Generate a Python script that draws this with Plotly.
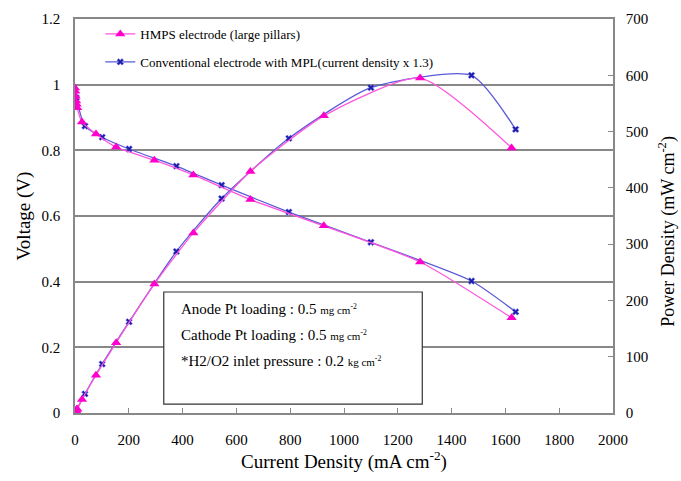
import plotly.graph_objects as go

# HMPS electrode (large pillars)
hmps_i = [0, 1, 2, 4, 6, 8, 26, 78, 153, 295, 440, 652, 925, 1283, 1623]
hmps_v = [0.99, 0.98, 0.965, 0.95, 0.94, 0.93, 0.886, 0.85, 0.81, 0.77, 0.725, 0.65, 0.57, 0.46, 0.29]
hmps_p = [0, 1, 2, 4, 6, 7, 24, 67, 125, 229, 320, 429, 528, 595, 471]

# Conventional electrode with MPL (current density x 1.3)
conv_i = [5, 37, 101, 201, 377, 545, 795, 1100, 1474, 1638]
conv_v = [0.96, 0.874, 0.84, 0.804, 0.752, 0.694, 0.612, 0.52, 0.402, 0.308]
conv_p = [5, 34, 87, 162, 287, 381, 488, 578, 600, 504]

x_ticks = [0, 200, 400, 600, 800, 1000, 1200, 1400, 1600, 1800, 2000]

FONT = "Liberation Serif"
MAG_LINE = "#FF55DD"
MAG_MK = "#FF00CC"
BLU_LINE = "#5A5AD8"
BLU_MK = "#1E1EA8"

mag_line = dict(color=MAG_LINE, width=1.3, shape="spline", smoothing=0.6)
blu_line = dict(color=BLU_LINE, width=1.3, shape="spline", smoothing=0.6)
mag_mk = dict(symbol="triangle-up", size=9, color=MAG_MK)
blu_mk = dict(symbol="x", size=6, color=BLU_MK, line=dict(width=0.5, color="#8888ff"))

fig = go.Figure()
fig.add_trace(go.Scatter(x=conv_i, y=conv_v, mode="lines+markers",
                         name="Conventional electrode with MPL(current density x 1.3)",
                         line=blu_line, marker=blu_mk, legendgroup="b", legendrank=2))
fig.add_trace(go.Scatter(x=conv_i, y=conv_p, mode="lines+markers", yaxis="y2", showlegend=False,
                         line=blu_line, marker=blu_mk, legendgroup="b"))
fig.add_trace(go.Scatter(x=hmps_i, y=hmps_v, mode="lines+markers", name="HMPS electrode (large pillars)",
                         line=mag_line, marker=mag_mk, legendgroup="a", legendrank=1))
fig.add_trace(go.Scatter(x=hmps_i, y=hmps_p, mode="lines+markers", yaxis="y2", showlegend=False,
                         line=mag_line, marker=mag_mk, legendgroup="a"))

# info box
fig.add_shape(type="rect", xref="x", yref="y", x0=330, x1=1291, y0=0.027, y1=0.3685,
              line=dict(color="#333", width=1.2), fillcolor="white", layer="above")
small = "<span style='font-size:11px'>%s</span>"
lines = [
    ("Anode Pt loading : 0.5 " + small % "mg cm<sup>-2</sup>", 0.317),
    ("Cathode Pt loading : 0.5 " + small % "mg cm<sup>-2</sup>", 0.238),
    ("*H2/O2 inlet pressure : 0.2 " + small % "kg cm<sup>-2</sup>", 0.158),
]
for txt, yy in lines:
    fig.add_annotation(x=388, y=yy, xref="x", yref="y", text=txt, showarrow=False,
                       xanchor="left", yanchor="middle", font=dict(family=FONT, size=15, color="black"))

# right axis title (placed to match reference offset)
fig.add_annotation(x=1, xref="paper", xanchor="center", xshift=54, y=0.46, yref="paper",
                   yanchor="middle", text="Power Density (mW cm<sup>-2</sup>)", textangle=-90,
                   showarrow=False, font=dict(family=FONT, size=18, color="black"))

fig.update_layout(
    width=681, height=481,
    margin=dict(l=75, r=68, t=19, b=68),
    paper_bgcolor="white", plot_bgcolor="white",
    font=dict(family=FONT, color="black"),
    legend=dict(x=0.047, y=1.0, xanchor="left", yanchor="top", bgcolor="rgba(0,0,0,0)",
                font=dict(family=FONT, size=13, color="black"), traceorder="grouped",
                tracegroupgap=8),
    xaxis=dict(range=[0, 2000], tickvals=x_ticks, ticks="inside", ticklen=5, tickcolor="#888",
               showline=True, linecolor="#888", linewidth=1.5, mirror=True, showgrid=False,
               zeroline=False, tickfont=dict(size=15), ticklabelstandoff=12,
               title=dict(text="Current Density (mA cm<sup>-2</sup>)", font=dict(size=19), standoff=4)),
    yaxis=dict(range=[0, 1.2], dtick=0.2, showgrid=True, gridcolor="#888", gridwidth=1.5,
               showline=True, linecolor="#888", linewidth=1.5, zeroline=False, ticks="",
               tickfont=dict(size=15), ticklabelstandoff=10,
               title=dict(text="Voltage (V)", font=dict(size=19), standoff=6)),
    yaxis2=dict(range=[0, 700], dtick=100, overlaying="y", side="right", showgrid=False,
                showline=True, linecolor="#888", linewidth=1.5, ticks="inside", ticklen=5,
                tickcolor="#888", zeroline=False, tickfont=dict(size=15), ticklabelstandoff=8),
)

fig.write_html("out.html")
